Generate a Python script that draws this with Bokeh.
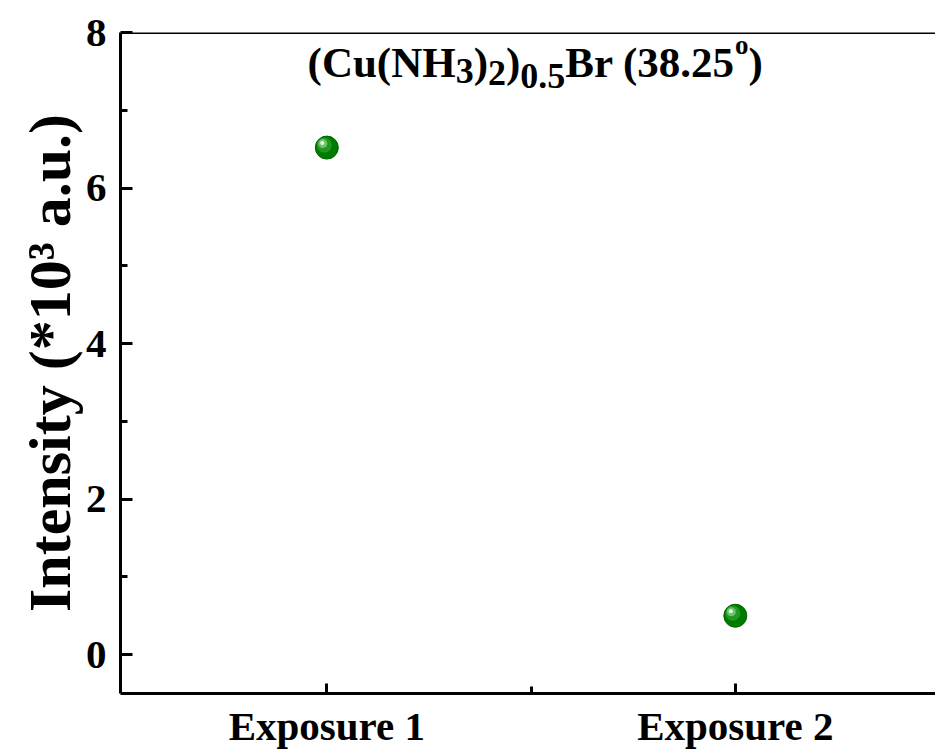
from bokeh.plotting import figure
from bokeh.models import FixedTicker, Span, Label
from bokeh.embed import file_html
from bokeh.resources import INLINE

# ---- data ----
categories = ["Exposure 1", "Exposure 2"]
positions = [1, 2]
intensity = [6.52, 0.50]          # *10^3 a.u.
y_ticks = [0, 2, 4, 6, 8]
y_minor = [1, 3, 5, 7]
x_minor = [1.5]

FONT = "Liberation Serif"
X0, X1 = 0.495, 2.49
Y0, Y1 = -0.5, 8.0
FRAME_W, FRAME_H = 815, 661

p = figure(width=935, height=753, x_range=(X0, X1), y_range=(Y0, Y1),
           output_backend="svg", toolbar_location=None,
           min_border_left=120, min_border_right=0, min_border_top=32, min_border_bottom=60)
p.outline_line_color = None
p.grid.visible = False
p.background_fill_color = "white"

# axes
for ax in (p.xaxis[0], p.yaxis[0]):
    ax.axis_line_width = 3
    ax.axis_line_color = "black"
    ax.major_tick_line_width = 3
    ax.minor_tick_line_width = 3
    ax.major_tick_out = 0
    ax.minor_tick_out = 0
    ax.major_label_text_font = FONT
    ax.major_label_text_font_style = "bold"
    ax.major_label_text_color = "black"

p.yaxis.ticker = FixedTicker(ticks=y_ticks, minor_ticks=y_minor)
p.yaxis.major_tick_in = 12
p.yaxis.minor_tick_in = 7
p.yaxis.major_label_text_font_size = "41px"
p.yaxis.major_label_standoff = 14
p.yaxis.axis_label = "Intensity (*10\u00b3 a.u.)"
p.yaxis.axis_label_text_font = FONT
p.yaxis.axis_label_text_font_style = "bold"
p.yaxis.axis_label_text_font_size = "60px"
p.yaxis.axis_label_text_color = "black"
p.yaxis.axis_label_standoff = 0

p.xaxis.ticker = FixedTicker(ticks=positions, minor_ticks=x_minor)
p.xaxis.major_label_overrides = {pos: c for pos, c in zip(positions, categories)}
p.xaxis.major_tick_in = 10
p.xaxis.minor_tick_in = 7
p.xaxis.major_label_text_font_size = "41px"
p.xaxis.major_label_standoff = 9

# top frame line
p.add_layout(Span(location=Y1, dimension="width", line_color="black", line_width=3))

# points: shaded green spheres
dxp = (X1 - X0) / FRAME_W
dyp = (Y1 - Y0) / FRAME_H
p.scatter(positions, intensity, size=23, fill_color="#007a00", line_color="#006400", line_width=1)
p.scatter([x - 2.5 * dxp for x in positions], [y + 2.5 * dyp for y in intensity],
          size=15, fill_color="#1f991f", line_color=None)
p.scatter([x - 4 * dxp for x in positions], [y + 4 * dyp for y in intensity],
          size=9, fill_color="#6cc46c", line_color=None)
p.scatter([x - 4.5 * dxp for x in positions], [y + 4.5 * dyp for y in intensity],
          size=4, fill_color="#eef8ee", line_color=None)

# title with sub/superscripts
F_MAIN, F_SUB, F_SUP = 43, 36, 27
W = {"(": 0.333, ")": 0.333, "C": 0.722, "u": 0.556, "N": 0.722, "H": 0.778,
     "B": 0.667, "r": 0.444, " ": 0.25, ".": 0.25, "o": 0.5}
def width(s, f):
    return sum(W.get(ch, 0.5) for ch in s) * f

pieces = [("(Cu(NH", F_MAIN, 0), ("3", F_SUB, -9), (")", F_MAIN, 0), ("2", F_SUB, -11),
          (")", F_MAIN, 0), ("0.5", F_SUB, -14), ("Br (38.25", F_MAIN, 0),
          ("o", F_SUP, 17), (")", F_MAIN, 0)]
total = sum(width(s, f) for s, f, _ in pieces)
cx, cy = 1.51, 7.62
off = -total / 2
for s, f, dy in pieces:
    p.add_layout(Label(x=cx, y=cy, x_offset=off, y_offset=dy, text=s,
                       text_font=FONT, text_font_style="bold", text_font_size=f"{f}px",
                       text_color="black", text_baseline="alphabetic", text_align="left"))
    off += width(s, f)

open("out.html", "w").write(file_html(p, INLINE))
